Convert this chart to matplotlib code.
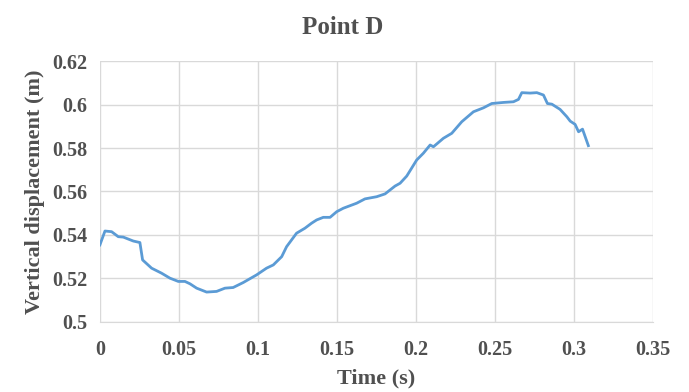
import matplotlib.pyplot as plt

# values
time_s = [0.0, 0.0032, 0.0074, 0.0116, 0.0148, 0.0211, 0.0253, 0.027, 0.0327, 0.039,
          0.0443, 0.0496, 0.0538, 0.057, 0.0612, 0.0675, 0.0738, 0.0791, 0.0843, 0.0907,
          0.0991, 0.1054, 0.1097, 0.115, 0.1181, 0.1244, 0.1297, 0.1339, 0.1371, 0.1413,
          0.1456, 0.1498, 0.154, 0.1624, 0.1677, 0.1751, 0.1804, 0.1867, 0.1899, 0.1941,
          0.2004, 0.2046, 0.2089, 0.211, 0.2173, 0.2226, 0.2289, 0.2363, 0.2426, 0.2479,
          0.2553, 0.2616, 0.2648, 0.2669, 0.2722, 0.2764, 0.2806, 0.2831, 0.2859, 0.2911,
          0.2954, 0.2975, 0.3006, 0.3028, 0.3053, 0.309]
disp_m = [0.5354, 0.5418, 0.5415, 0.5392, 0.539, 0.5372, 0.5365, 0.5285, 0.5247, 0.5224,
          0.5201, 0.5186, 0.5186, 0.5175, 0.5155, 0.5137, 0.514, 0.5155, 0.5158, 0.5181,
          0.5216, 0.5247, 0.5262, 0.53, 0.5346, 0.5408, 0.5431, 0.5454, 0.5469, 0.5481,
          0.5481, 0.5507, 0.5523, 0.5546, 0.5566, 0.5576, 0.5589, 0.5625, 0.5638, 0.5671,
          0.5745, 0.5776, 0.5814, 0.5806, 0.5845, 0.5868, 0.5921, 0.5967, 0.5985, 0.6005,
          0.601, 0.6013, 0.6024, 0.6055, 0.6053, 0.6055, 0.6044, 0.6005, 0.6002, 0.5978,
          0.5944, 0.5924, 0.5909, 0.5875, 0.5887, 0.5811]

xticks = [0, 0.05, 0.1, 0.15, 0.2, 0.25, 0.3, 0.35]
xtick_labels = ['0', '0.05', '0.1', '0.15', '0.2', '0.25', '0.3', '0.35']
yticks = [0.5, 0.52, 0.54, 0.56, 0.58, 0.6, 0.62]
ytick_labels = ['0.5', '0.52', '0.54', '0.56', '0.58', '0.6', '0.62']

plt.rcParams['font.family'] = 'Liberation Serif'
txt = '#505050'

fig = plt.figure(figsize=(6.89, 3.92), dpi=100)
ax = fig.add_axes([0.145, 0.179, 0.803, 0.665])

ax.plot(time_s, disp_m, color='#5B9BD5', linewidth=2)

ax.set_xlim(0, 0.35)
ax.set_ylim(0.5, 0.62)
ax.set_xticks(xticks)
ax.set_xticklabels(xtick_labels)
ax.set_yticks(yticks)
ax.set_yticklabels(ytick_labels)
ax.tick_params(length=0, labelsize=14.5, labelcolor=txt)
ax.tick_params(axis='y', pad=9)
ax.tick_params(axis='x', pad=13)
for lab in ax.get_xticklabels() + ax.get_yticklabels():
    lab.set_fontweight('bold')

ax.grid(True, color='#d9d9d9', linewidth=1)
ax.set_axisbelow(True)
for s in ['top', 'right', 'left']:
    ax.spines[s].set_visible(False)
ax.spines['bottom'].set_color('#d9d9d9')

fig.text(0.497, 0.93, 'Point D', fontsize=18, fontweight='bold', color=txt,
         ha='center', va='center')
ax.set_xlabel('Time (s)', fontsize=16, fontweight='bold', color=txt, labelpad=6)
ax.set_ylabel('Vertical displacement (m)', fontsize=16, fontweight='bold', color=txt, labelpad=5)

fig.savefig('out.png', dpi=100)
